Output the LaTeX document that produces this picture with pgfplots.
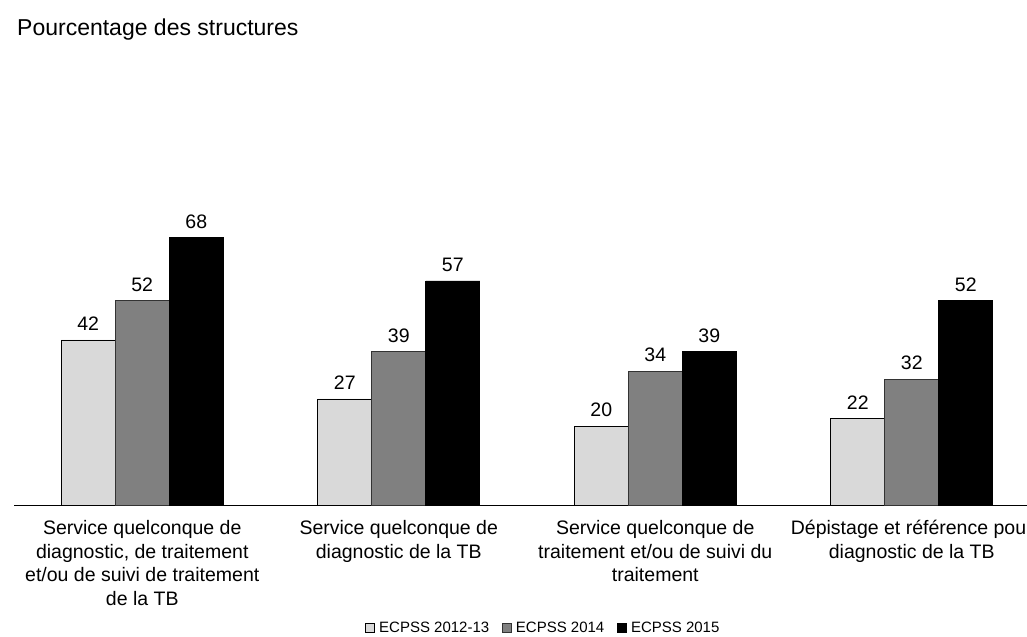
\documentclass[border=0pt]{standalone}
\usepackage{fontspec}
\setmainfont{Liberation Sans}
\usepackage{pgfplots}
\pgfplotsset{compat=1.18}
\definecolor{cLight}{HTML}{D9D9D9}
\definecolor{cGray}{HTML}{808080}
\begin{document}
\begin{tikzpicture}[x=1bp,y=1bp]
\useasboundingbox (0,0) rectangle (1027,637);
\clip (0,0) rectangle (1027,637);
\fill[white] (0,0) rectangle (1027,637);
\node[anchor=base west, inner sep=0pt, font=\fontsize{23bp}{27bp}\selectfont] at (17,601) {Pourcentage des structures};
\begin{axis}[
  at={(14bp,132bp)}, anchor=south west,
  scale only axis, width=1026bp, height=393bp,
  xmin=-0.5, xmax=3.5, ymin=0, ymax=100,
  axis x line=bottom, axis y line=none,
  axis line style={black, line width=0.8bp, -},
  xtick={0,1,2,3}, xtick style={draw=none},
  xticklabels={{Service quelconque de\\diagnostic, de traitement\\et/ou de suivi de traitement\\de la TB},
               {Service quelconque de\\diagnostic de la TB},
               {Service quelconque de\\traitement et/ou de suivi du\\traitement},
               {D\'epistage et r\'ef\'erence pour\\diagnostic de la TB}},
  xticklabel style={align=center, inner sep=0pt, yshift=-11bp, font=\fontsize{19.5bp}{23.5bp}\selectfont},
  ybar, bar width=54bp,
  /pgf/number format/assume math mode=true,
  nodes near coords={\pgfmathprintnumber{\pgfplotspointmeta}},
  every node near coord/.append style={anchor=south, inner sep=0pt, yshift=9bp, font=\fontsize{19.5bp}{22bp}\selectfont, black},
  legend columns=3,
  legend style={at={(0.516,-0.313)}, anchor=center, draw=none, fill=none, inner sep=0pt,
    font=\fontsize{15bp}{18bp}\selectfont,
    /tikz/every odd column/.append style={column sep=2bp},
    /tikz/every even column/.append style={column sep=11bp}},
  legend cell align=left,
  legend image code/.code={\draw[#1, line width=0.7bp] (0bp,-4.5bp) rectangle (9bp,4.5bp);},
  clip=false,
]
\addplot[fill=cLight, draw=black, line width=0.7bp, bar shift=-54bp] coordinates {(0,42) (1,27) (2,20) (3,22)};
\addplot[fill=cGray, draw=black!80, line width=0.7bp, bar shift=0bp] coordinates {(0,52) (1,39) (2,34) (3,32)};
\addplot[fill=black, draw=black, line width=0.7bp, bar shift=54bp] coordinates {(0,68) (1,57) (2,39) (3,52)};
\legend{ECPSS 2012-13, ECPSS 2014, ECPSS 2015}
\end{axis}
\end{tikzpicture}
\end{document}
